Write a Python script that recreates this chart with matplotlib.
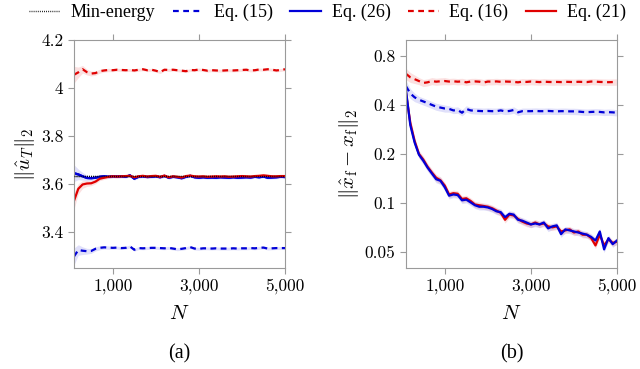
import numpy as np
import matplotlib.pyplot as plt
from matplotlib.ticker import FixedLocator, NullLocator

plt.rcParams['mathtext.fontset'] = 'cm'
plt.rcParams['font.family'] = ['Liberation Serif', 'DejaVu Serif']

# number of samples
N = np.arange(100, 5001, 100)

# ---------------- (a) norm of the input ----------------
min_energy = 3.632

u_eq15 = [3.298, 3.325, 3.322, 3.320, 3.321, 3.330, 3.334, 3.336, 3.335, 3.334,
          3.335, 3.333, 3.334, 3.340, 3.326, 3.333, 3.332, 3.333, 3.334, 3.334,
          3.333, 3.332, 3.334, 3.331, 3.328, 3.330, 3.333, 3.337, 3.331, 3.330,
          3.332, 3.332, 3.331, 3.332, 3.331, 3.331, 3.331, 3.332, 3.331, 3.332,
          3.332, 3.333, 3.332, 3.334, 3.335, 3.331, 3.332, 3.333, 3.333, 3.333]
u_eq26 = [3.645, 3.640, 3.632, 3.625, 3.624, 3.626, 3.630, 3.632, 3.630, 3.632,
          3.631, 3.632, 3.630, 3.636, 3.622, 3.630, 3.632, 3.629, 3.630, 3.632,
          3.628, 3.634, 3.626, 3.630, 3.628, 3.624, 3.630, 3.634, 3.628, 3.626,
          3.628, 3.626, 3.627, 3.626, 3.628, 3.627, 3.626, 3.628, 3.626, 3.627,
          3.628, 3.627, 3.630, 3.628, 3.631, 3.626, 3.627, 3.628, 3.630, 3.629]
u_eq16 = [4.055, 4.065, 4.078, 4.066, 4.060, 4.062, 4.070, 4.073, 4.075, 4.074,
          4.076, 4.075, 4.074, 4.075, 4.073, 4.076, 4.078, 4.074, 4.076, 4.072,
          4.066, 4.076, 4.075, 4.076, 4.074, 4.072, 4.070, 4.075, 4.074, 4.077,
          4.075, 4.072, 4.074, 4.073, 4.072, 4.073, 4.074, 4.073, 4.074, 4.075,
          4.076, 4.073, 4.074, 4.077, 4.076, 4.078, 4.076, 4.073, 4.075, 4.078]
u_eq21 = [3.530, 3.580, 3.598, 3.602, 3.603, 3.610, 3.622, 3.626, 3.630, 3.632,
          3.631, 3.632, 3.633, 3.634, 3.628, 3.632, 3.634, 3.631, 3.633, 3.634,
          3.630, 3.635, 3.628, 3.632, 3.630, 3.627, 3.633, 3.635, 3.632, 3.631,
          3.632, 3.630, 3.631, 3.632, 3.631, 3.632, 3.630, 3.631, 3.632, 3.633,
          3.632, 3.631, 3.633, 3.634, 3.636, 3.634, 3.632, 3.632, 3.633, 3.633]
# half width of the shaded band
u_spread = [0.035, 0.022, 0.016, 0.012, 0.010, 0.009, 0.008, 0.007, 0.007, 0.006] + [0.006] * 40

# ---------------- (b) final state error ----------------
x_eq15 = [0.520, 0.470, 0.445, 0.430, 0.420, 0.410, 0.400, 0.390, 0.385, 0.380,
          0.378, 0.370, 0.372, 0.358, 0.378, 0.370, 0.368, 0.367, 0.366, 0.367,
          0.366, 0.366, 0.370, 0.365, 0.367, 0.372, 0.360, 0.366, 0.366, 0.366,
          0.367, 0.366, 0.366, 0.367, 0.366, 0.365, 0.366, 0.366, 0.365, 0.365,
          0.364, 0.362, 0.361, 0.362, 0.363, 0.362, 0.360, 0.361, 0.360, 0.358]
x_eq26 = [0.490, 0.300, 0.235, 0.198, 0.182, 0.165, 0.152, 0.140, 0.137, 0.125,
          0.111, 0.113, 0.112, 0.104, 0.105, 0.101, 0.097, 0.095, 0.095, 0.094,
          0.092, 0.089, 0.088, 0.082, 0.086, 0.085, 0.079, 0.078, 0.076, 0.074,
          0.075, 0.074, 0.076, 0.070, 0.072, 0.073, 0.0645, 0.069, 0.068, 0.067,
          0.066, 0.065, 0.064, 0.062, 0.059, 0.067, 0.052, 0.061, 0.056, 0.059]
x_eq16 = [0.620, 0.590, 0.575, 0.560, 0.545, 0.550, 0.560, 0.555, 0.558, 0.560,
          0.556, 0.558, 0.555, 0.557, 0.550, 0.556, 0.557, 0.555, 0.548, 0.556,
          0.555, 0.557, 0.554, 0.556, 0.555, 0.553, 0.550, 0.555, 0.553, 0.556,
          0.554, 0.552, 0.555, 0.553, 0.552, 0.553, 0.552, 0.554, 0.553, 0.552,
          0.554, 0.553, 0.552, 0.556, 0.555, 0.553, 0.552, 0.551, 0.552, 0.553]
x_eq21 = [0.470, 0.310, 0.240, 0.200, 0.185, 0.167, 0.154, 0.143, 0.138, 0.128,
          0.113, 0.115, 0.114, 0.106, 0.107, 0.103, 0.098, 0.097, 0.096, 0.095,
          0.093, 0.090, 0.087, 0.079, 0.085, 0.084, 0.080, 0.077, 0.075, 0.074,
          0.076, 0.074, 0.075, 0.072, 0.071, 0.072, 0.067, 0.068, 0.069, 0.066,
          0.067, 0.064, 0.064, 0.061, 0.055, 0.064, 0.055, 0.060, 0.057, 0.058]
# relative half width of the shaded band (log axis)
x_spread = [0.08, 0.07, 0.06, 0.05, 0.05, 0.05, 0.05, 0.05, 0.05, 0.05] + [0.045] * 40

red = '#e00000'
blue = '#0000d8'
grey = '#9a9a9a'
dash = (0, (2.6, 2.0))
dot = (0, (0.6, 0.9))

fig = plt.figure(figsize=(6.4, 3.69), dpi=100)
ax1 = fig.add_axes([0.1156, 0.2737, 0.3297, 0.618])
ax2 = fig.add_axes([0.6344, 0.2737, 0.3297, 0.618])

# panel (a)
s = np.array(u_spread)
for y, c in [(u_eq15, blue), (u_eq26, blue), (u_eq16, red), (u_eq21, red)]:
    y = np.array(y)
    ax1.fill_between(N, y - s, y + s, color=c, alpha=0.12, lw=0)
h0 = ax1.axhline(min_energy, color='black', lw=1.0, ls=dot, label='Min-energy')
h1, = ax1.plot(N, u_eq15, color=blue, lw=1.6, ls=dash, label='Eq. (15)')
h2, = ax1.plot(N, u_eq26, color=blue, lw=1.6, label='Eq. (26)')
h3, = ax1.plot(N, u_eq16, color=red, lw=1.6, ls=dash, label='Eq. (16)')
h4, = ax1.plot(N, u_eq21, color=red, lw=1.6, label='Eq. (21)')
ax1.plot(N, u_eq26, color=blue, lw=1.6, zorder=1.9)
ax1.axhline(min_energy, color='black', lw=1.0, ls=dot, zorder=3)
ax1.set_xlim(100, 5000)
ax1.set_ylim(3.25, 4.2)
ax1.yaxis.set_major_locator(FixedLocator([3.4, 3.6, 3.8, 4.0, 4.2]))
ax1.set_yticklabels(['3.4', '3.6', '3.8', '4', '4.2'])
ax1.set_ylabel(r'$\|\hat{u}_T\|_2$', fontsize=15, labelpad=3)

# panel (b)
r = np.array(x_spread)
for y, c in [(x_eq15, blue), (x_eq16, red), (x_eq21, red), (x_eq26, blue)]:
    y = np.array(y)
    ax2.fill_between(N, y * (1 - r), y * (1 + r), color=c, alpha=0.12, lw=0)
ax2.plot(N, x_eq15, color=blue, lw=1.6, ls=dash)
ax2.plot(N, x_eq16, color=red, lw=1.6, ls=dash)
ax2.plot(N, x_eq21, color=red, lw=1.6)
ax2.plot(N, x_eq26, color=blue, lw=1.6)
ax2.set_yscale('log')
ax2.set_xlim(100, 5000)
ax2.set_ylim(0.04, 1.0)
ax2.yaxis.set_major_locator(FixedLocator([0.05, 0.1, 0.2, 0.4, 0.8]))
ax2.yaxis.set_minor_locator(NullLocator())
ax2.set_yticklabels(['0.05', '0.1', '0.2', '0.4', '0.8'])
ax2.set_ylabel(r'$\|\hat{x}_\mathrm{f} - x_\mathrm{f}\|_2$', fontsize=15, labelpad=3)

for ax in (ax1, ax2):
    ax.xaxis.set_major_locator(FixedLocator([1000, 3000, 5000]))
    ax.set_xticklabels(['1,000', '3,000', '5,000'])
    ax.set_xlabel(r'$N$', fontsize=15, labelpad=8)
    for sp in ax.spines.values():
        sp.set_color(grey)
        sp.set_linewidth(0.8)
    ax.tick_params(direction='out', length=4, width=0.8, color=grey,
                   top=True, right=True, labelsize=12.5)
    for lab in ax.get_xticklabels() + ax.get_yticklabels():
        lab.set_fontfamily('cmr10')

fig.text(0.2805, 1 - 354 / 369, '(a)', ha='center', va='center', fontsize=14.5)
fig.text(0.7992, 1 - 354 / 369, '(b)', ha='center', va='center', fontsize=14.5)

fig.legend(handles=[h0, h1, h2, h3, h4], loc='center', bbox_to_anchor=(0.512, 0.966),
           ncol=5, frameon=False, fontsize=13, handlelength=1.7, handletextpad=0.6,
           columnspacing=0.95, borderpad=0)

fig.savefig('out.png', dpi=100)
